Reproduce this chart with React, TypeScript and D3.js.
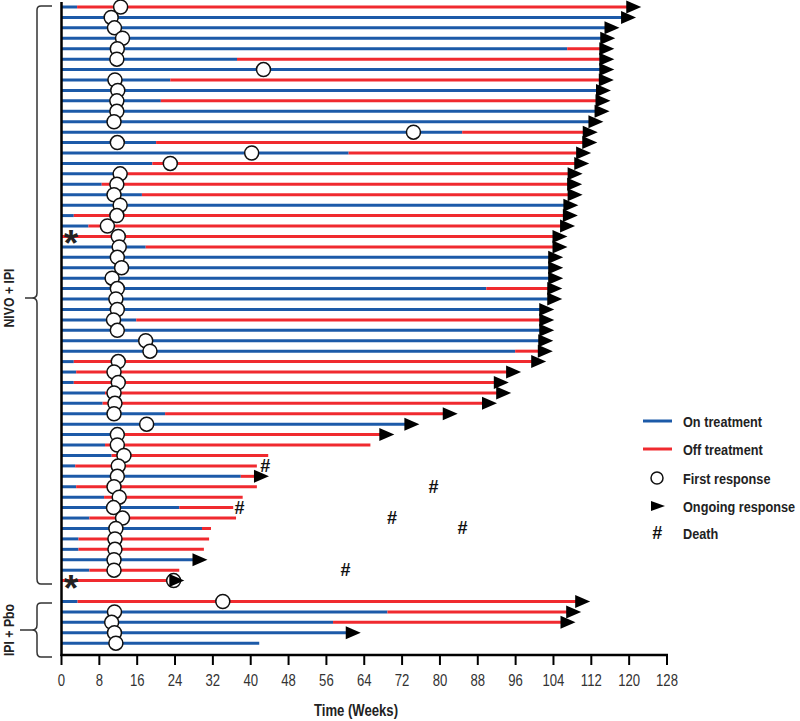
import React from "react";
import * as d3 from "d3";

// Row slot (0..55 = NIVO + IPI, 57..61 = IPI + Pbo)
const slots = [
  0, 1, 2, 3, 4, 5, 6, 7, 8, 9, 10, 11, 12, 13, 14, 15, 16, 17, 18, 19, 20, 21, 22, 23, 24, 25, 26, 27,
  28, 29, 30, 31, 32, 33, 34, 35, 36, 37, 38, 39, 40, 41, 42, 43, 44, 45, 46, 47, 48, 49, 50, 51, 52, 53,
  54, 55, 57, 58, 59, 60, 61,
];
// weeks on treatment (blue segment end)
const onTreatmentEnd = [
  3.3, 118.5, 115, 114.1, 106.9, 37.1, 113.9, 23, 113.2, 21, 112.9, 111.6, 84.7, 20, 60.7, 19.2, 12, 8.5,
  17, 106.3, 2.6, 5.7, 0, 17.8, 103.1, 103.1, 103.1, 89.8, 102.9, 101.2, 15.8, 101.2, 101, 95.9, 2.6, 3.1,
  2.6, 9.2, 8.7, 21.9, 72.7, 10.6, 9.2, 10.6, 2.9, 37.9, 3.1, 9, 24.9, 5.9, 29.7, 3.6, 3.6, 27.9, 5.9, 0,
  3.4, 68.9, 57.4, 60.3, 41.8,
];
// total follow-up (end of red segment)
const totalEnd = [
  119.6, 118.5, 115, 114.1, 113.9, 113.9, 113.9, 113.8, 113.2, 113.1, 112.9, 111.6, 110.4, 110.3, 109,
  108.6, 107.2, 107.1, 107.2, 106.3, 106.2, 105.6, 104, 104, 103.1, 103.1, 103.1, 102.9, 102.9, 101.2,
  101.2, 101.2, 101, 100.9, 99.5, 94.2, 91.6, 92.1, 89.1, 80.8, 72.7, 67.4, 65.3, 43.7, 41.3, 40.9, 41.3,
  38.3, 36.3, 36.9, 31.6, 31.2, 30.1, 27.9, 24.9, 23, 108.8, 106.9, 105.7, 60.3, 41.8,
];
// first response week
const firstResponse = [
  12.5, 10.5, 11.2, 12.9, 11.8, 11.7, 42.7, 11.3, 11.9, 11.7, 11.7, 11.1, 74.4, 11.8, 40.2, 23, 12.4, 11.7,
  11.1, 12.4, 11.7, 9.7, 12, 12.2, 11.8, 12.7, 10.7, 11.8, 11.5, 11.8, 11, 11.8, 17.8, 18.7, 12, 11.1, 12,
  11.1, 11.3, 11.1, 18, 11.8, 11.8, 13.2, 12, 11.8, 11.1, 12.2, 11, 12.9, 11.5, 11.3, 11.3, 11.1, 11.1,
  23.7, 34.1, 11.2, 10.6, 11.2, 11.5,
];
// ongoing response (1 = arrow)
const ongoing = [
  1, 1, 1, 1, 1, 1, 1, 1, 1, 1, 1, 1, 1, 1, 1, 1, 1, 1, 1, 1, 1, 1, 1, 1, 1, 1, 1, 1, 1, 1, 1, 1, 1, 1, 1,
  1, 1, 1, 1, 1, 1, 1, 0, 0, 0, 1, 0, 0, 0, 0, 0, 0, 0, 1, 0, 1, 1, 1, 1, 1, 0,
];
// deaths: [slot, week]
const deathSlots = [44, 46, 48, 49, 50, 54];
const deathWeeks = [43, 78.6, 37.6, 69.8, 84.7, 60];
// asterisk rows
const starSlots = [22, 55];

const xTicks = d3.range(0, 129, 8);
const legendLabels = ["On treatment", "Off treatment", "First response", "Ongoing response", "Death"];

const BLUE = "#1c5aa8";
const RED = "#f02a2f";
const FONT = "'Liberation Sans', Arial, sans-serif";

function Narrow(props: {
  x: number;
  y: number;
  size: number;
  bold?: boolean;
  anchor?: string;
  rotate?: number;
  fill?: string;
  children: React.ReactNode;
}) {
  const { x, y, size, bold, anchor, rotate, fill, children } = props;
  return (
    <g transform={`translate(${x},${y}) rotate(${rotate || 0}) scale(0.82,1)`}>
      <text
        x={0}
        y={0}
        textAnchor={anchor || "start"}
        fontFamily={FONT}
        fontWeight={bold ? "bold" : "normal"}
        fontSize={size}
        fill={fill || "#222"}
      >
        {children}
      </text>
    </g>
  );
}

export default function App() {
  const x = d3.scaleLinear().domain([0, 128]).range([61.5, 667]);
  const y = d3.scaleLinear().domain([0, 61]).range([7, 643.2]);
  const axisY = 655;

  const rows = slots.map((s, i) => ({
    s,
    on: onTreatmentEnd[i],
    end: totalEnd[i],
    resp: firstResponse[i],
    arrow: ongoing[i] === 1,
  }));

  const tri = (cx: number, cy: number) =>
    `M${cx - 1},${cy - 6.5}L${cx + 14},${cy}L${cx - 1},${cy + 6.5}Z`;

  const legendY = [421, 449, 478, 506, 533];

  const hash = (cx: number, cy: number, key: string) => (
    <text
      key={key}
      x={cx}
      y={cy + 6}
      textAnchor="middle"
      fontFamily={FONT}
      fontWeight="bold"
      fontStyle="italic"
      fontSize={18}
      fill="#111"
    >
      #
    </text>
  );

  return (
    <svg
      width={800}
      height={721}
      style={{ position: "absolute", left: 0, top: 0, background: "#fff" }}
    >
      {/* bars */}
      {rows.map((r, i) => (
        <g key={"b" + i}>
          {r.on > 0 && (
            <line x1={x(0)} x2={x(r.on)} y1={y(r.s)} y2={y(r.s)} stroke={BLUE} strokeWidth={3} />
          )}
          {r.end > r.on && (
            <line x1={x(r.on)} x2={x(r.end)} y1={y(r.s)} y2={y(r.s)} stroke={RED} strokeWidth={3} />
          )}
        </g>
      ))}
      {/* first response */}
      {rows.map((r, i) => (
        <circle key={"c" + i} cx={x(r.resp)} cy={y(r.s)} r={7} fill="#fff" stroke="#111" strokeWidth={1.5} />
      ))}
      {/* ongoing arrows */}
      {rows.filter((r) => r.arrow).map((r, i) => (
        <path key={"a" + i} d={tri(x(r.end), y(r.s))} fill="#000" />
      ))}
      {/* deaths */}
      {deathSlots.map((s, i) => hash(x(deathWeeks[i]), y(s), "d" + i))}
      {/* asterisks */}
      {starSlots.map((s, i) => (
        <text
          key={"s" + i}
          x={71}
          y={y(s) + 20}
          textAnchor="middle"
          fontFamily={FONT}
          fontWeight="bold"
          fontSize={37}
          fill="#222"
        >
          *
        </text>
      ))}
      {/* y axis */}
      <line x1={61.5} x2={61.5} y1={2} y2={axisY + 1} stroke="#000" strokeWidth={2.5} />
      {/* x axis */}
      <line x1={x(0) - 1} x2={x(128) + 1} y1={axisY} y2={axisY} stroke="#000" strokeWidth={2.5} />
      {xTicks.map((t) => (
        <g key={"t" + t}>
          <line x1={x(t)} x2={x(t)} y1={axisY} y2={axisY + 10} stroke="#000" strokeWidth={2} />
          <Narrow x={x(t)} y={686} size={16} anchor="middle" fill="#333">
            {t}
          </Narrow>
        </g>
      ))}
      <Narrow x={356} y={716} size={16} bold anchor="middle">
        Time (Weeks)
      </Narrow>

      {/* braces */}
      <path
        d="M52,6H41Q37,6 37,10V293Q37,298 32,298H25M32,298Q37,298 37,303V579Q37,584 41,584H52"
        fill="none"
        stroke="#333"
        strokeWidth={1.5}
      />
      <path
        d="M52,603H41Q37,603 37,607V625Q37,630 32,630H20M32,630Q37,630 37,635V652Q37,657 41,657H52"
        fill="none"
        stroke="#333"
        strokeWidth={1.5}
      />
      <Narrow x={14} y={298} size={15} bold anchor="middle" rotate={-90}>
        NIVO + IPI
      </Narrow>
      <Narrow x={14} y={630} size={15} bold anchor="middle" rotate={-90}>
        IPI + Pbo
      </Narrow>

      {/* legend */}
      <line x1={643} x2={672} y1={legendY[0]} y2={legendY[0]} stroke={BLUE} strokeWidth={3} />
      <line x1={643} x2={672} y1={legendY[1]} y2={legendY[1]} stroke={RED} strokeWidth={3} />
      <circle cx={657} cy={legendY[2]} r={6} fill="#fff" stroke="#111" strokeWidth={1.5} />
      <path d={`M651,${legendY[3] - 5}L665,${legendY[3]}L651,${legendY[3] + 5}Z`} fill="#000" />
      {hash(657, legendY[4], "legHash")}
      {legendLabels.map((l, i) => (
        <Narrow key={"l" + i} x={683} y={legendY[i] + 5.5} size={15.5} bold>
          {l}
        </Narrow>
      ))}
    </svg>
  );
}
